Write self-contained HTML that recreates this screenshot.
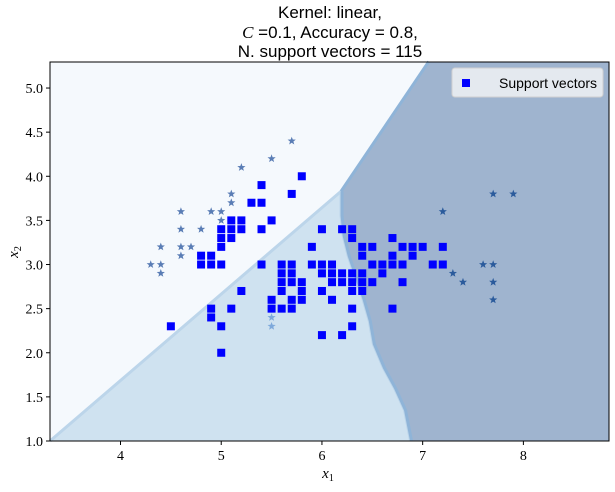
<!DOCTYPE html>
<html><head><meta charset="utf-8"><style>
body{margin:0;background:#fff;}
svg text{font-family:"Liberation Serif","DejaVu Serif",serif;}
svg text.sans{font-family:"Liberation Sans","DejaVu Sans",sans-serif;}
</style></head><body>
<svg id="chart" width="615" height="487" xmlns="http://www.w3.org/2000/svg">
<g font-size="17" text-anchor="middle" fill="#000">
<text class="sans" x="330" y="18">Kernel: linear,</text>
<text class="sans" x="330" y="38"><tspan font-style="italic" style="font-family:'Liberation Serif',serif">C</tspan> =0.1, Accuracy = 0.8,</text>
<text class="sans" x="330" y="57">N. support vectors = 115</text>
</g>
<g id="regions"></g>
<g id="marks"></g>
<rect x="50" y="62" width="559" height="379" fill="none" stroke="#000" stroke-width="1"/>
<g id="axes"></g>
<g>
<rect x="452" y="68" width="151" height="29" rx="3" fill="#f0f2f5" fill-opacity="0.85" stroke="#d0d0d0"/>
<rect x="462" y="79" width="8" height="8" fill="#0000ff"/>
<text class="sans" x="499" y="88" font-size="14">Support vectors</text>
</g>
<text x="328" y="478" font-size="15" font-style="italic" text-anchor="middle">x<tspan font-size="10" dy="3" font-style="normal">1</tspan></text>
<text transform="translate(18,252) rotate(-90)" font-size="15" font-style="italic" text-anchor="middle">x<tspan font-size="10" dy="3" font-style="normal">2</tspan></text>
</svg>
<script>
const xTicks=[4,5,6,7,8];
const yTicks=[1.0,1.5,2.0,2.5,3.0,3.5,4.0,4.5,5.0];
const svX=[5.8,5.4,5.7,5.3,5.4,5.1,5.2,5.5,5.0,5.1,5.2,5.4,6.0,6.2,6.3,5.0,5.1,6.3,6.7,5.0,5.9,6.4,6.5,6.8,6.9,7.0,7.2,4.8,4.9,6.4,6.7,6.9,
4.8,4.9,5.0,5.4,5.6,5.7,5.9,6.0,6.1,6.5,6.6,6.7,6.8,7.1,7.2,
5.6,5.7,6.0,6.1,6.2,6.3,6.4,6.6,
5.6,5.7,5.8,6.1,6.2,6.3,6.4,6.5,6.8,
5.2,5.6,5.8,6.0,6.3,6.4,
5.5,5.7,5.8,6.1,
4.9,5.1,5.5,5.6,5.7,6.3,6.7,
4.9,4.5,5.0,6.3,6.0,6.2,5.0];
const svY=[4.0,3.9,3.8,3.7,3.7,3.5,3.5,3.5,3.4,3.4,3.4,3.4,3.4,3.4,3.4,3.3,3.3,3.3,3.3,3.2,3.2,3.2,3.2,3.2,3.2,3.2,3.2,3.1,3.1,3.1,3.1,3.1,
3.0,3.0,3.0,3.0,3.0,3.0,3.0,3.0,3.0,3.0,3.0,3.0,3.0,3.0,3.0,
2.9,2.9,2.9,2.9,2.9,2.9,2.9,2.9,
2.8,2.8,2.8,2.8,2.8,2.8,2.8,2.8,2.8,
2.7,2.7,2.7,2.7,2.7,2.7,
2.6,2.6,2.6,2.6,
2.5,2.5,2.5,2.5,2.5,2.5,2.5,
2.4,2.3,2.3,2.3,2.2,2.2,2.0];
const c0X=[5.7,5.5,5.2,5.1,5.1,4.6,4.9,5.0,5.0,4.6,4.8,4.4,4.6,4.7,4.6,4.3,4.4,4.4];
const c0Y=[4.4,4.2,4.1,3.8,3.7,3.6,3.6,3.6,3.5,3.4,3.4,3.2,3.2,3.2,3.1,3.0,3.0,2.9];
const c1X=[5.5,5.5];
const c1Y=[2.4,2.3];
const c2X=[7.7,7.9,7.2,7.6,7.7,7.3,7.4,7.7,7.7];
const c2Y=[3.8,3.8,3.6,3.0,3.0,2.9,2.8,2.8,2.6];
const bLeftX=[3.3,6.19];
const bLeftY=[1.0,3.83];
const bUpX=[6.19,7.06];
const bUpY=[3.83,5.3];
const bLowX=[6.19,6.19,6.21,6.26,6.34,6.41,6.47,6.51,6.61,6.72,6.82,6.88];
const bLowY=[3.83,3.55,3.33,3.1,2.83,2.6,2.36,2.1,1.83,1.6,1.35,1.0];

const X0=3.3,X1=8.85,Y0=1.0,Y1=5.295,L=50,R=609,T=62,B=441;
const sx=v=>L+(v-X0)/(X1-X0)*(R-L);
const sy=v=>B-(v-Y0)/(Y1-Y0)*(B-T);
const NS='http://www.w3.org/2000/svg';
function mk(tag,attrs,parent){const e=document.createElementNS(NS,tag);for(const k in attrs)e.setAttribute(k,attrs[k]);parent.appendChild(e);return e;}
const reg=document.getElementById('regions');
const bg=mk('rect',{x:L,y:T,width:R-L,height:B-T,fill:'#f5f9fd'},reg);


let pts=[[sx(bLeftX[0]),sy(bLeftY[0])],[sx(bLeftX[1]),sy(bLeftY[1])]];
for(let i=0;i<bLowX.length;i++)pts.push([sx(bLowX[i]),sy(bLowY[i])]);
const p1=mk('polygon',{points:pts.map(p=>p.join(',')).join(' '),fill:'#cfe2f0'},reg);


let pts2=[];
for(let i=0;i<bLowX.length;i++)pts2.push([sx(bLowX[i]),sy(bLowY[i])]);
pts2.push([R,B],[R,T],[sx(bUpX[1]),T]);
const p2=mk('polygon',{points:pts2.map(p=>p.join(',')).join(' '),fill:'#9fb4cf'},reg);


// boundary lines
const bl1=mk('polyline',{points:pts.map(p=>p.join(',')).join(' '),fill:'none',stroke:'#bcd5ea','stroke-width':3},reg);


const upPts=[[sx(bUpX[0]),sy(bUpY[0])],[sx(bUpX[1]),sy(bUpY[1])]];
const bl2=mk('polyline',{points:upPts.map(p=>p.join(',')).join(' '),fill:'none',stroke:'#8fb4d8','stroke-width':3},reg);


const lowPts=bLowX.map((v,i)=>[sx(v)+1,sy(bLowY[i])]);
const bl3=mk('polyline',{points:lowPts.map(p=>p.join(',')).join(' '),fill:'none',stroke:'#8fb4d8','stroke-width':3},reg);


const marks=document.getElementById('marks');
function star(cx,cy,r,fill,name){
  let s='';for(let i=0;i<10;i++){const a=-Math.PI/2+i*Math.PI/5;const rr=i%2?r*0.42:r;s+=(cx+rr*Math.cos(a)).toFixed(1)+','+(cy+rr*Math.sin(a)).toFixed(1)+' ';}
  const e=mk('polygon',{points:s,fill:fill},marks);
  
  
}
c0X.forEach((v,i)=>star(sx(v),sy(c0Y[i]),4.3,'#5a7db5','point-class-0'));
c1X.forEach((v,i)=>star(sx(v),sy(c1Y[i]),4.3,'#7ea9db','point-class-1'));
c2X.forEach((v,i)=>star(sx(v),sy(c2Y[i]),4.3,'#2b5b9c','point-class-2'));
svX.forEach((v,i)=>{
  const e=mk('rect',{x:sx(v)-4,y:sy(svY[i])-4,width:8,height:8,fill:'#0000ff'},marks);
  
  
});
const ax=document.getElementById('axes');
xTicks.forEach(t=>{
  const l=mk('line',{x1:sx(t),x2:sx(t),y1:B,y2:B+4,stroke:'#000'},ax);
  
  
  const tx=mk('text',{x:sx(t),y:B+19,'font-size':14,'text-anchor':'middle'},ax);
  tx.textContent=t;
  
  
});
yTicks.forEach(t=>{
  const l=mk('line',{x1:L-4,x2:L,y1:sy(t),y2:sy(t),stroke:'#000'},ax);
  
  
  const tx=mk('text',{x:L-7,y:sy(t)+5,'font-size':14,'text-anchor':'end'},ax);
  tx.textContent=t.toFixed(1);
  
  
});
</script>
</body></html>
